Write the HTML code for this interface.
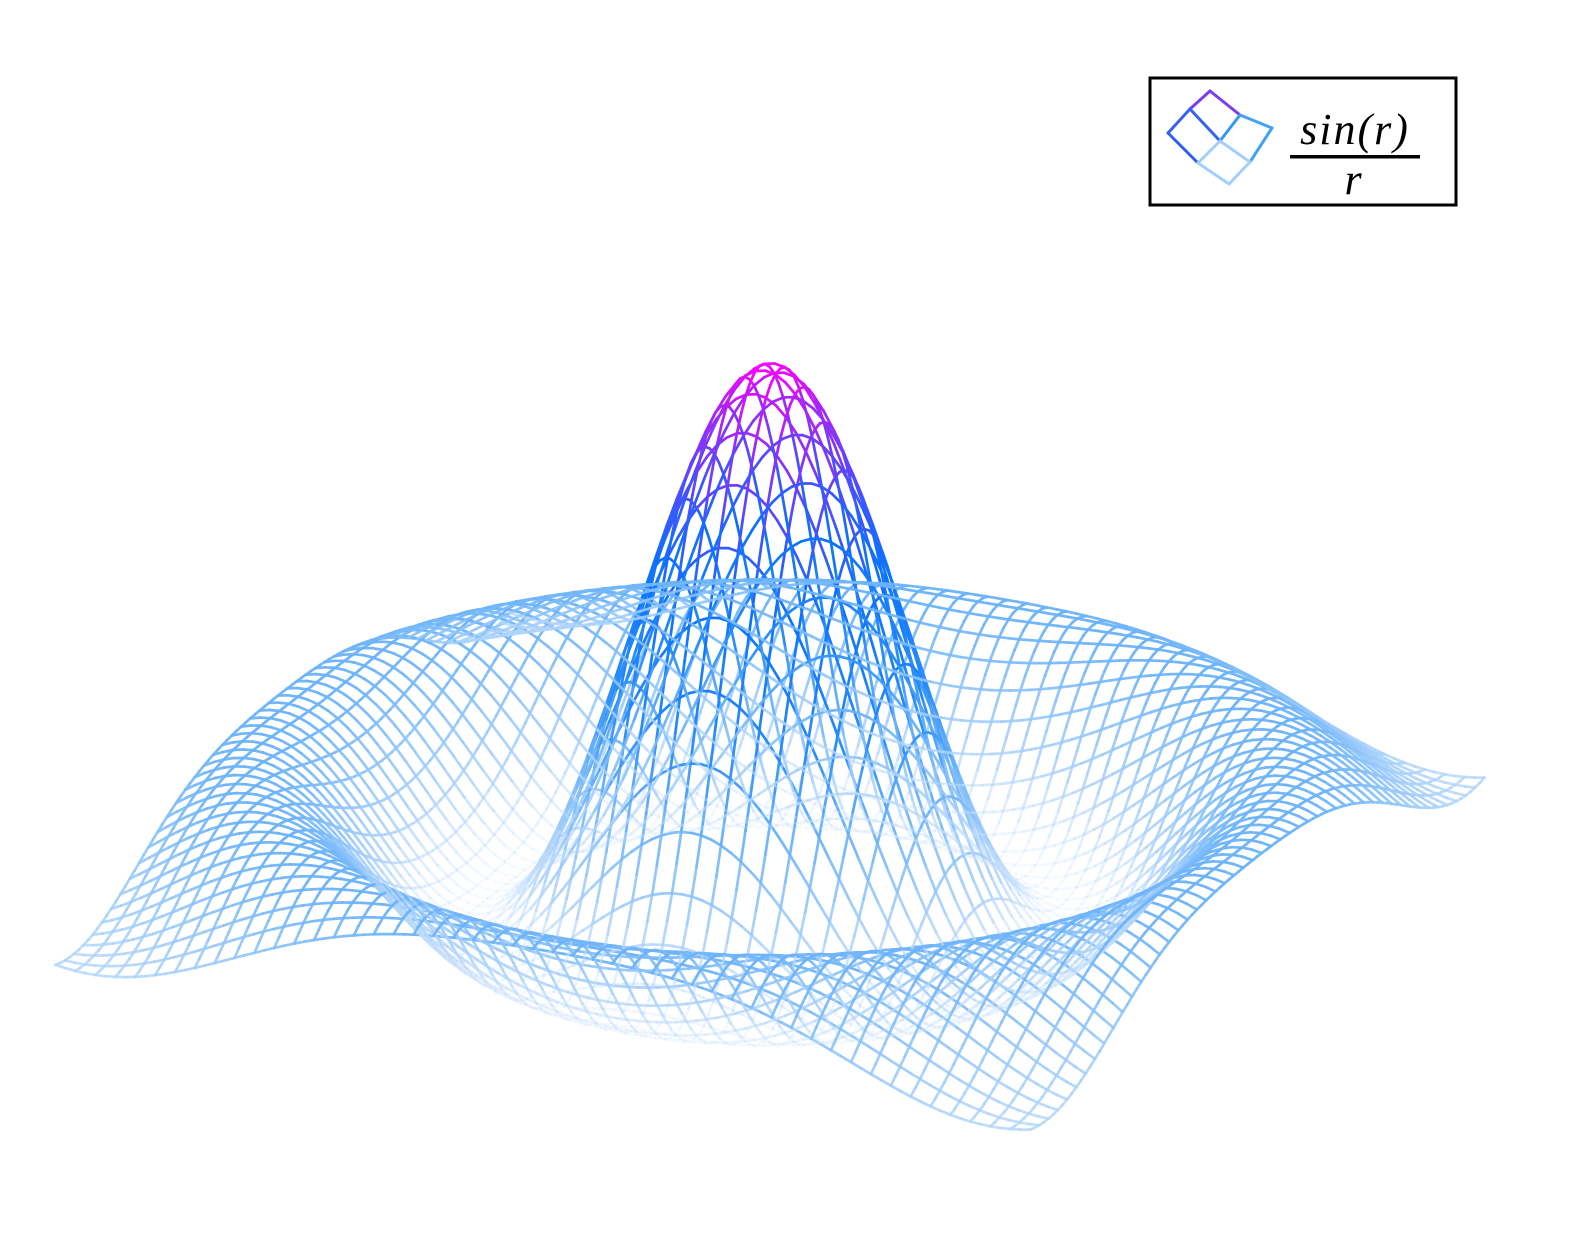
<!DOCTYPE html>
<html><head><meta charset="utf-8"><style>
html,body{margin:0;padding:0;background:#fff;}
#wrap{position:relative;width:1569px;height:1241px;overflow:hidden;}
svg{position:absolute;left:0;top:0;}
</style></head><body>
<div id="wrap">
<svg id="plot" width="1569" height="1241" viewBox="0 0 1569 1241">
<g id="mesh"></g>
<g>
<rect x="1150" y="78" width="306" height="127" fill="#fff" stroke="#000" stroke-width="3"/>
<g stroke-width="3" fill="none" stroke-linecap="round">
<line x1="1190" y1="109" x2="1210" y2="91" stroke="#7a3cf0"/>
<line x1="1210" y1="91" x2="1240" y2="115" stroke="#7a3cf0"/>
<line x1="1190" y1="109" x2="1220" y2="141" stroke="#3562f0"/>
<line x1="1240" y1="115" x2="1220" y2="141" stroke="#3598f5"/>
<line x1="1168" y1="133" x2="1190" y2="109" stroke="#3562f0"/>
<line x1="1168" y1="133" x2="1198" y2="163" stroke="#3060f0"/>
<line x1="1240" y1="115" x2="1272" y2="128" stroke="#42a2f2"/>
<line x1="1272" y1="128" x2="1250" y2="162" stroke="#42a2f2"/>
<line x1="1198" y1="163" x2="1220" y2="141" stroke="#a2d0fa"/>
<line x1="1250" y1="162" x2="1220" y2="141" stroke="#a2d0fa"/>
<line x1="1198" y1="163" x2="1229" y2="184" stroke="#a2d0fa"/>
<line x1="1229" y1="184" x2="1250" y2="162" stroke="#a2d0fa"/>
</g>
<text x="1355" y="144" text-anchor="middle" font-family="Liberation Serif, serif" font-style="italic" font-size="44" letter-spacing="2">sin(r)</text>
<rect x="1290" y="155" width="130" height="3.5" fill="#000"/>
<text x="1353" y="194" text-anchor="middle" font-family="Liberation Serif, serif" font-style="italic" font-size="44">r</text>
</g>
</svg>
</div>
<script>
// grid definition (x and y sample ranges)
const gridStart = -8;
const gridEnd = 8;
const gridCount = 50;
// colour stops: z value -> rgba
const stopZ = [-0.22, -0.08, 0.13, 0.3, 0.55, 0.72, 0.88, 1.0];
const stopC = [[215,232,255,0.15],[175,212,250,0.85],[105,178,250,0.95],[40,140,250,1],[10,115,255,1],[70,80,255,1],[160,40,250,1],[255,0,255,1]];

const xs = [], ys = [];
for (let i = 0; i < gridCount; i++) { const v = gridStart + (gridEnd - gridStart) * i / (gridCount - 1); xs.push(v); ys.push(v); }

const ax = [60.9, 10.3], bx = [28.4, -22.0], c0 = [770, 832], zs = 467;
function zf(x, y) { const r = Math.sqrt(x*x + y*y); return r < 1e-9 ? 1 : Math.sin(r) / r; }
function proj(x, y, z) { return [c0[0] + x*ax[0] + y*bx[0], c0[1] + x*ax[1] + y*bx[1] - z*zs]; }
function col(z) {
  if (z <= stopZ[0]) return stopC[0];
  for (let i = 1; i < stopZ.length; i++) {
    if (z <= stopZ[i]) {
      const t = (z - stopZ[i-1]) / (stopZ[i] - stopZ[i-1]);
      return stopC[i-1].map((v, k) => v + (stopC[i][k] - v) * t);
    }
  }
  return stopC[stopC.length-1];
}
const NS = 'http://www.w3.org/2000/svg';
const mesh = document.getElementById('mesh');
function seg(x1, y1, x2, y2) {
  const z1 = zf(x1, y1), z2 = zf(x2, y2);
  const p = proj(x1, y1, z1), q = proj(x2, y2, z2);
  const c = col((z1 + z2) / 2);
  const l = document.createElementNS(NS, 'line');
  l.setAttribute('x1', p[0].toFixed(1)); l.setAttribute('y1', p[1].toFixed(1));
  l.setAttribute('x2', q[0].toFixed(1)); l.setAttribute('y2', q[1].toFixed(1));
  l.setAttribute('stroke', 'rgba(' + Math.round(c[0]) + ',' + Math.round(c[1]) + ',' + Math.round(c[2]) + ',' + c[3].toFixed(2) + ')');
  
  
  mesh.appendChild(l);
}
mesh.setAttribute('stroke-width', '2.7');
mesh.setAttribute('stroke-linecap', 'round');
for (let i = 0; i < gridCount; i++) {
  for (let j = 0; j < gridCount - 1; j++) {
    const sub = 2;
    for (let k = 0; k < sub; k++) {
      const a = ys[j] + (ys[j+1] - ys[j]) * k / sub, b = ys[j] + (ys[j+1] - ys[j]) * (k + 1) / sub;
      seg(xs[i], a, xs[i], b);
      seg(a, ys[i], b, ys[i]);
    }
  }
}
</script>
</body></html>
